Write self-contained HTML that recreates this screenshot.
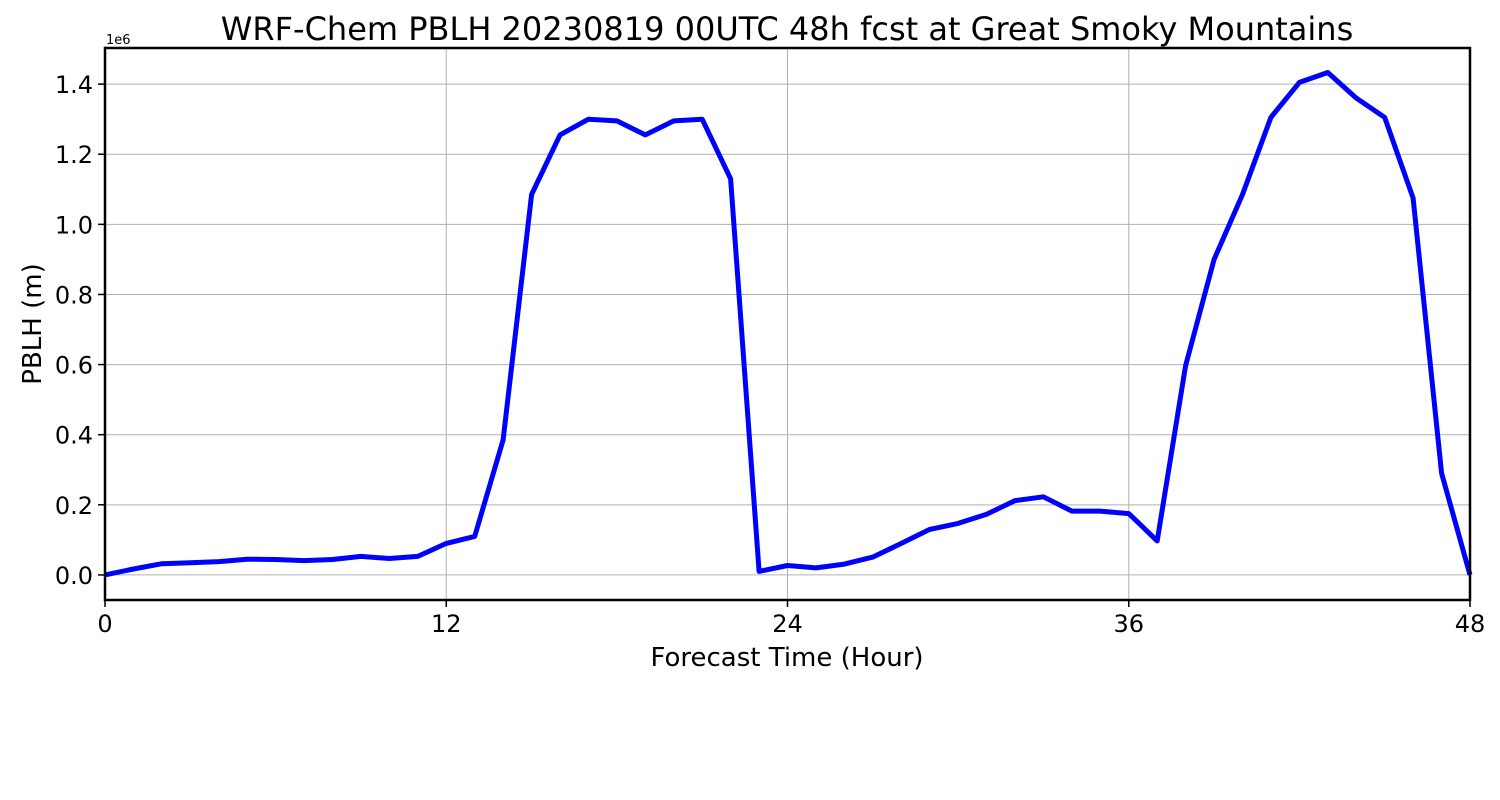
<!DOCTYPE html>
<html><head><meta charset="utf-8"><style>
body{margin:0;background:#fff;}
svg{display:block;font-family:"DejaVu Sans","Liberation Sans",sans-serif;}
</style></head><body>
<svg id="chart" width="1500" height="800">
<rect width="1500" height="800" fill="#fff"/>
<text x="787" y="40" font-size="32" text-anchor="middle">WRF-Chem PBLH  20230819 00UTC 48h fcst at Great Smoky Mountains</text>
<g id="grid"></g>
<g id="ticks"></g>
<path id="line" fill="none" stroke="#0000ff" stroke-width="5" stroke-linejoin="round"/>
<rect x="105" y="48" width="1365" height="552" fill="none" stroke="#000" stroke-width="2.5"/>
<text x="106" y="44" font-size="13">1e6</text>
<text x="787" y="666" font-size="26" text-anchor="middle">Forecast Time (Hour)</text>
<text transform="translate(41,324) rotate(-90)" font-size="26" text-anchor="middle">PBLH  (m)</text>
</svg>
<script>
const hours=[0,1,2,3,4,5,6,7,8,9,10,11,12,13,14,15,16,17,18,19,20,21,22,23,24,25,26,27,28,29,30,31,32,33,34,35,36,37,38,39,40,41,42,43,44,45,46,47,48];
const pblh=[0,0.017,0.032,0.035,0.038,0.045,0.044,0.041,0.044,0.053,0.047,0.053,0.09,0.11,0.385,1.085,1.255,1.30,1.295,1.255,1.295,1.30,1.13,0.01,0.027,0.02,0.031,0.051,0.09,0.13,0.147,0.173,0.212,0.223,0.182,0.182,0.175,0.097,0.597,0.9,1.085,1.305,1.405,1.433,1.36,1.305,1.075,0.29,0];
const xTicks=[0,12,24,36,48];
const yTicks=[0,0.2,0.4,0.6,0.8,1.0,1.2,1.4];
const yTickLabels=["0.0","0.2","0.4","0.6","0.8","1.0","1.2","1.4"];
const X0=105,X1=1470,Y0=600,Y1=48,xMin=0,xMax=48,yMin=-0.0715,yMax=1.503;
const sx=v=>X0+(v-xMin)/(xMax-xMin)*(X1-X0);
const sy=v=>Y0-(v-yMin)/(yMax-yMin)*(Y0-Y1);
const NS="http://www.w3.org/2000/svg";
const grid=document.getElementById('grid'),ticks=document.getElementById('ticks');
function mk(tag,attrs,parent){const e=document.createElementNS(NS,tag);for(const k in attrs)e.setAttribute(k,attrs[k]);parent.appendChild(e);return e;}
xTicks.forEach(t=>{
  const g=mk('line',{x1:sx(t),x2:sx(t),y1:Y1,y2:Y0,stroke:'#b0b0b0','stroke-width':1},grid);
  
  
  const tk=mk('line',{x1:sx(t),x2:sx(t),y1:Y0,y2:Y0+7,stroke:'#000','stroke-width':1.5},ticks);
  
  
  const l=mk('text',{x:sx(t),y:Y0+32,'font-size':24,'text-anchor':'middle'},ticks);
  l.textContent=t;
  
  
});
yTicks.forEach((t,i)=>{
  const g=mk('line',{x1:X0,x2:X1,y1:sy(t),y2:sy(t),stroke:'#b0b0b0','stroke-width':1},grid);
  
  
  const tk=mk('line',{x1:X0-7,x2:X0,y1:sy(t),y2:sy(t),stroke:'#000','stroke-width':1.5},ticks);
  
  
  const l=mk('text',{x:X0-12,y:sy(t)+9,'font-size':24,'text-anchor':'end'},ticks);
  l.textContent=yTickLabels[i];
  
  
});
document.getElementById('line').setAttribute('d',hours.map((h,i)=>(i?'L':'M')+sx(h).toFixed(1)+','+sy(pblh[i]).toFixed(1)).join(''));
</script>
</body></html>
